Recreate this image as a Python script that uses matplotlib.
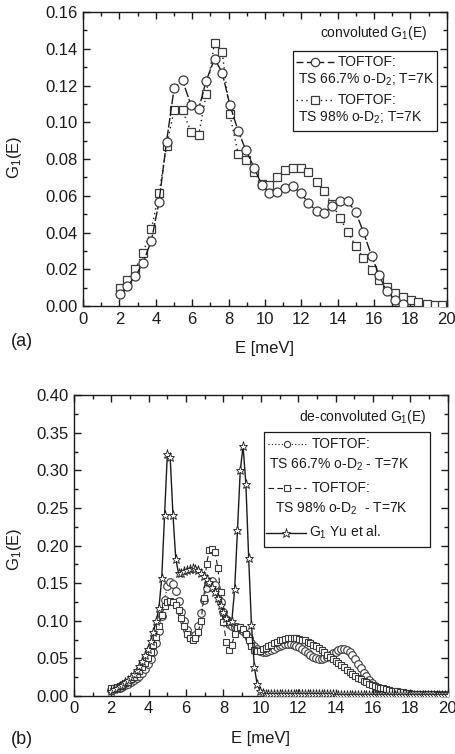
import numpy as np
import matplotlib
matplotlib.use("Agg")
import matplotlib.pyplot as plt
from matplotlib.ticker import MultipleLocator
from matplotlib.lines import Line2D
from matplotlib.patches import Rectangle

plt.rcParams['font.family'] = ['Liberation Sans', 'DejaVu Sans']
plt.rcParams['mathtext.fontset'] = 'custom'
plt.rcParams['mathtext.rm'] = 'Liberation Sans'
plt.rcParams['mathtext.it'] = 'Liberation Sans:italic'

# ---------------- Panel (a): convoluted G1(E) ----------------
E_a = [2.02, 2.44, 2.88, 3.30, 3.76, 4.18, 4.59, 5.01, 5.47, 5.93, 6.35, 6.77,
       7.23, 7.65, 8.07, 8.53, 8.95, 9.41, 9.82, 10.24, 10.68, 11.10, 11.52, 11.96,
       12.39, 12.84, 13.25, 13.67, 14.13, 14.55, 14.99, 15.41, 15.87, 16.28, 16.70,
       17.16, 17.58, 18.02, 18.44, 18.90, 19.32, 19.72]
G_a_667 = [0.0067, 0.0109, 0.0163, 0.0236, 0.0357, 0.0568, 0.0893, 0.1186, 0.1228,
           0.1096, 0.1070, 0.1226, 0.1346, 0.1270, 0.1096, 0.0952, 0.0849, 0.0753,
           0.0660, 0.0617, 0.0619, 0.0644, 0.0653, 0.0615, 0.0562, 0.0517, 0.0508,
           0.0544, 0.0570, 0.0570, 0.0512, 0.0403, 0.0272, 0.0167, 0.0080, 0.0034,
           0.0013]
G_a_98 = [0.0100, 0.0140, 0.0203, 0.0290, 0.0420, 0.0615, 0.0870, 0.1068, 0.1065,
          0.0950, 0.0929, 0.1152, 0.1433, 0.1382, 0.1043, 0.0829, 0.0793, 0.0729,
          0.0662, 0.0660, 0.0702, 0.0738, 0.0753, 0.0753, 0.0729, 0.0678, 0.0626,
          0.0557, 0.0481, 0.0403, 0.0327, 0.0261, 0.0194, 0.0140, 0.0103, 0.0073,
          0.0049, 0.0034, 0.0020, 0.0013, 0.0007, 0.0005]

# ---------------- Panel (b): de-convoluted G1(E) ----------------
E_b = np.round(np.arange(2.0, 20.0001, 0.15), 2)
G_b_667 = [0.008, 0.009, 0.010, 0.011, 0.012, 0.014, 0.016, 0.018, 0.021, 0.024,
           0.027, 0.031, 0.036, 0.042, 0.049, 0.058, 0.070, 0.086, 0.106, 0.128,
           0.146, 0.151, 0.149, 0.140, 0.126, 0.112, 0.099, 0.088, 0.080, 0.077,
           0.081, 0.093, 0.110, 0.128, 0.143, 0.152, 0.153, 0.148, 0.138, 0.125,
           0.112, 0.102, 0.096, 0.093, 0.092, 0.091, 0.089, 0.086, 0.082, 0.077,
           0.071, 0.066, 0.062, 0.060, 0.059, 0.059, 0.060, 0.061, 0.063, 0.065,
           0.067, 0.068, 0.069, 0.069, 0.069, 0.068, 0.067, 0.065, 0.062, 0.060,
           0.057, 0.054, 0.052, 0.050, 0.049, 0.049, 0.050, 0.052, 0.054, 0.057,
           0.059, 0.061, 0.062, 0.062, 0.061, 0.058, 0.054, 0.049, 0.043, 0.037,
           0.031, 0.026, 0.021, 0.017, 0.013, 0.010, 0.008, 0.006, 0.005, 0.004,
           0.003, 0.003, 0.002, 0.002, 0.002, 0.002, 0.002, 0.001, 0.001, 0.001,
           0.001, 0.001, 0.001, 0.001, 0.001, 0.001, 0.001, 0.001, 0.001, 0.001, 0.001]
G_b_98 = [0.010, 0.011, 0.012, 0.013, 0.015, 0.017, 0.019, 0.022, 0.025, 0.029,
          0.033, 0.038, 0.044, 0.051, 0.059, 0.068, 0.079, 0.093, 0.108, 0.119,
          0.125, 0.126, 0.125, 0.121, 0.114, 0.104, 0.093, 0.083, 0.077, 0.074,
          0.077, 0.085, 0.100, 0.130, 0.176, 0.194, 0.195, 0.192, 0.170, 0.138,
          0.098, 0.072, 0.061, 0.068, 0.082, 0.090, 0.092, 0.089, 0.083, 0.074,
          0.066, 0.061, 0.060, 0.060, 0.062, 0.064, 0.066, 0.068, 0.070, 0.072,
          0.074, 0.075, 0.076, 0.077, 0.077, 0.077, 0.077, 0.076, 0.075, 0.074,
          0.072, 0.070, 0.068, 0.066, 0.064, 0.061, 0.058, 0.055, 0.052, 0.049,
          0.047, 0.044, 0.041, 0.038, 0.035, 0.032, 0.029, 0.027, 0.024, 0.022,
          0.020, 0.018, 0.016, 0.015, 0.013, 0.012, 0.011, 0.010, 0.009, 0.008,
          0.007, 0.006, 0.006, 0.005, 0.005, 0.004, 0.004, 0.003, 0.003, 0.003,
          0.002, 0.002, 0.002, 0.002, 0.002, 0.002, 0.001, 0.001, 0.001, 0.001, 0.001]
G_b_yu = [0.007, 0.009, 0.011, 0.013, 0.015, 0.018, 0.021, 0.025, 0.029, 0.034,
          0.040, 0.046, 0.054, 0.063, 0.073, 0.085, 0.099, 0.117, 0.157, 0.240,
          0.322, 0.318, 0.241, 0.182, 0.163, 0.164, 0.166, 0.168, 0.169, 0.170,
          0.169, 0.167, 0.164, 0.160, 0.156, 0.151, 0.145, 0.138, 0.130, 0.121,
          0.112, 0.104, 0.098, 0.100, 0.142, 0.220, 0.300, 0.332, 0.282, 0.183,
          0.094, 0.039, 0.016, 0.007, 0.004, 0.003, 0.002, 0.002, 0.002, 0.002,
          0.002, 0.002, 0.002, 0.002, 0.002, 0.002, 0.002, 0.002, 0.002, 0.002,
          0.002, 0.002, 0.002, 0.002, 0.002, 0.002, 0.002, 0.002, 0.002, 0.002,
          0.001, 0.001, 0.001, 0.001, 0.001, 0.001, 0.001, 0.001, 0.001, 0.001,
          0.001, 0.001, 0.001, 0.001, 0.001, 0.001, 0.001, 0.001, 0.001, 0.001,
          0.001, 0.001, 0.001, 0.001, 0.001, 0.001, 0.001, 0.001, 0.001, 0.001,
          0.001, 0.001, 0.001, 0.001, 0.001, 0.001, 0.001, 0.001, 0.001, 0.001, 0.001]

x_ticks = [0, 2, 4, 6, 8, 10, 12, 14, 16, 18, 20]

INK = '#1a1a1a'
MEC = '#3a3a3a'

fig = plt.figure(figsize=(4.56, 7.54), dpi=100)
ax1 = fig.add_axes([0.182, 0.594, 0.798, 0.390])
ax2 = fig.add_axes([0.162, 0.077, 0.820, 0.399])


def style_axes(ax, ymax, ymaj, ymin, fmt):
    ax.set_xlim(0, 20)
    ax.set_ylim(0, ymax)
    ax.set_xticks(x_ticks)
    ax.xaxis.set_minor_locator(MultipleLocator(1))
    ax.yaxis.set_major_locator(MultipleLocator(ymaj))
    ax.yaxis.set_minor_locator(MultipleLocator(ymin))
    ax.yaxis.set_major_formatter(matplotlib.ticker.FormatStrFormatter(fmt))
    ax.tick_params(which='both', direction='in', top=True, right=True,
                   colors=INK, width=1.0, labelsize=12, pad=4)
    ax.tick_params(which='major', length=5)
    ax.tick_params(which='minor', length=3)
    for sp in ax.spines.values():
        sp.set_linewidth(1.0)
        sp.set_color(INK)
    ax.set_xlabel('E [meV]', fontsize=12, color=INK)
    ax.set_ylabel('G$_1$(E)', fontsize=12, color=INK)
    ax.xaxis.label.set_va('center')
    ax.yaxis.label.set_va('center')


# ---- Panel (a)
ax1.plot(E_a[:len(G_a_98)], G_a_98, linestyle=(0, (1, 2.5)), color=INK, lw=1.0,
         marker='s', ms=5.5, mfc='white', mec=MEC, mew=0.9, zorder=3)
ax1.plot(E_a[:len(G_a_667)], G_a_667, linestyle=(0, (7, 1.5)), color=INK, lw=1.0,
         marker='o', ms=6.5, mfc='white', mec=MEC, mew=0.9, zorder=4)
style_axes(ax1, 0.16, 0.02, 0.01, '%.2f')
ax1.yaxis.set_label_coords(-0.187, 0.507)
ax1.xaxis.set_label_coords(0.5, -0.143)

ax1.text(0.945, 0.929, 'convoluted G$_1$(E)', transform=ax1.transAxes,
         ha='right', va='center', fontsize=10, color=INK)
ax1.add_patch(Rectangle((0.577, 0.595), 0.396, 0.272, transform=ax1.transAxes,
                        fill=False, lw=0.9, ec=INK, zorder=5))
ax1.add_line(Line2D([0.585, 0.637, 0.690], [0.83, 0.83, 0.83], transform=ax1.transAxes,
                    linestyle=(0, (5, 2.5)), color=INK, lw=1.0, marker='o',
                    markevery=[1], ms=6, mfc='white', mec=MEC, mew=0.9))
ax1.text(0.700, 0.83, 'TOFTOF:', transform=ax1.transAxes, ha='left',
         va='center', fontsize=10, color=INK)
ax1.text(0.590, 0.769, 'TS 66.7% o-D$_2$; T=7K', transform=ax1.transAxes,
         ha='left', va='center', fontsize=10, color=INK)
ax1.add_line(Line2D([0.585, 0.637, 0.690], [0.70, 0.70, 0.70], transform=ax1.transAxes,
                    linestyle=(0, (1, 2.5)), color=INK, lw=1.0, marker='s',
                    markevery=[1], ms=5.5, mfc='white', mec=MEC, mew=0.9))
ax1.text(0.700, 0.70, 'TOFTOF:', transform=ax1.transAxes, ha='left',
         va='center', fontsize=10, color=INK)
ax1.text(0.590, 0.639, 'TS 98% o-D$_2$; T=7K', transform=ax1.transAxes,
         ha='left', va='center', fontsize=10, color=INK)

# ---- Panel (b)
ax2.plot(E_b, G_b_667, linestyle=(0, (1, 2)), color=INK, lw=0.8,
         marker='o', ms=5.5, mfc='white', mec=MEC, mew=0.8, zorder=3)
ax2.plot(E_b, G_b_98, linestyle=(0, (5, 3)), color=INK, lw=0.8,
         marker='s', ms=4.8, mfc='white', mec=MEC, mew=0.8, zorder=3)
ax2.plot(E_b, G_b_yu, linestyle='-', color=INK, lw=1.0,
         marker='*', ms=6.5, mfc='white', mec=INK, mew=0.6, zorder=4)
style_axes(ax2, 0.40, 0.05, 0.025, '%.2f')
ax2.yaxis.set_label_coords(-0.158, 0.486)
ax2.xaxis.set_label_coords(0.5, -0.142)

ax2.text(0.944, 0.928, 'de-convoluted G$_1$(E)', transform=ax2.transAxes,
         ha='right', va='center', fontsize=10, color=INK)
ax2.add_patch(Rectangle((0.508, 0.496), 0.444, 0.382, transform=ax2.transAxes,
                        fill=False, lw=0.9, ec=INK, zorder=5))
ax2.add_line(Line2D([0.518, 0.570, 0.622], [0.839, 0.839, 0.839], transform=ax2.transAxes,
                    linestyle=(0, (1, 2)), color=INK, lw=0.8, marker='o',
                    markevery=[1], ms=4.5, mfc='white', mec=MEC, mew=0.8))
ax2.text(0.635, 0.839, 'TOFTOF:', transform=ax2.transAxes, ha='left',
         va='center', fontsize=10, color=INK)
ax2.text(0.522, 0.767, 'TS 66.7% o-D$_2$ - T=7K', transform=ax2.transAxes,
         ha='left', va='center', fontsize=10, color=INK)
ax2.add_line(Line2D([0.518, 0.570, 0.622], [0.690, 0.690, 0.690], transform=ax2.transAxes,
                    linestyle=(0, (5, 3)), color=INK, lw=0.8, marker='s',
                    markevery=[1], ms=4, mfc='white', mec=MEC, mew=0.8))
ax2.text(0.635, 0.690, 'TOFTOF:', transform=ax2.transAxes, ha='left',
         va='center', fontsize=10, color=INK)
ax2.text(0.537, 0.623, 'TS 98% o-D$_2$  - T=7K', transform=ax2.transAxes,
         ha='left', va='center', fontsize=10, color=INK)
ax2.add_line(Line2D([0.515, 0.568, 0.620], [0.543, 0.543, 0.543], transform=ax2.transAxes,
                    linestyle='-', color=INK, lw=1.0, marker='*',
                    markevery=[1], ms=6.5, mfc='white', mec=INK, mew=0.6))
ax2.text(0.630, 0.543, 'G$_1$ Yu et al.', transform=ax2.transAxes, ha='left',
         va='center', fontsize=10, color=INK)

fig.text(22 / 456, 1 - 342 / 754, '(a)', ha='center', va='center', fontsize=13, color=INK)
fig.text(22 / 456, 1 - 739 / 754, '(b)', ha='center', va='center', fontsize=13, color=INK)

fig.savefig('out.png', dpi=100)
